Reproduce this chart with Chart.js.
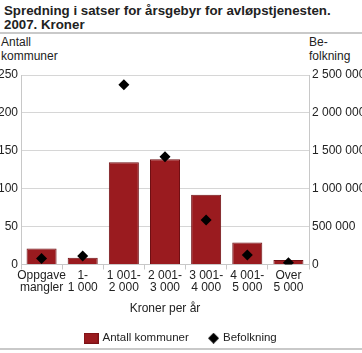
<!DOCTYPE html>
<html>
<head>
<meta charset="utf-8">
<script src="https://cdn.jsdelivr.net/npm/chart.js@4.4.0/dist/chart.umd.min.js"></script>
<style>
  body { margin: 0; width: 362px; height: 353px; position: relative; overflow: hidden; background: #fff;
         font-family: "Liberation Sans", Arial, sans-serif; color: #222; }
  #title { position: absolute; left: 4px; top: 4px; font-weight: bold; font-size: 13.3px; line-height: 14px; }
  .rule { position: absolute; left: 0; width: 362px; height: 2px; background: #c9c9c9; }
  .unit { position: absolute; font-size: 12px; line-height: 14px; }
  #wrap { position: absolute; left: 0; top: 0; width: 362px; height: 354px; }
</style>
</head>
<body>
<div id="title">Spredning i satser for årsgebyr for avløpstjenesten.<br>2007. Kroner</div>
<div class="rule" style="top:32px"></div>
<div class="unit" style="left:1px;top:35px">Antall<br>kommuner</div>
<div class="unit" style="left:309px;top:35px">Be-<br>folkning</div>
<div id="wrap"><canvas id="chart"></canvas></div>
<div class="rule" style="top:348px"></div>
<script>
// kategorier (kroner per år)
const categories = [
  ["Oppgave", "mangler"], ["1-", "1 000"], ["1 001-", "2 000"], ["2 001-", "3 000"],
  ["3 001-", "4 000"], ["4 001-", "5 000"], ["Over", "5 000"]
];
const antallKommuner = [21, 9, 135, 139, 92, 29, 6];
const befolkning = [80000, 112000, 2373000, 1420000, 587000, 125000, 23000];

const red = "#9a1b1f";

// number format with space as thousands separator
const fmt = v => String(v).replace(/\B(?=(\d{3})+(?!\d))/g, " ");

function swatch(w, h, draw) {
  const c = document.createElement("canvas");
  c.width = w; c.height = h;
  draw(c.getContext("2d"));
  return c;
}
const barIcon = swatch(15, 11, g => {
  g.fillStyle = "#7a1216"; g.fillRect(0, 0, 15, 11);
  g.fillStyle = red; g.fillRect(1, 1, 13, 9);
});
// diamond sits at the right side of the icon box
const diamondIcon = swatch(15, 11, g => {
  g.fillStyle = "#000";
  g.beginPath(); g.moveTo(9.5, 0); g.lineTo(15, 5.5); g.lineTo(9.5, 11); g.lineTo(4, 5.5); g.closePath(); g.fill();
});

Chart.defaults.font.family = '"Liberation Sans", Arial, sans-serif';
Chart.defaults.font.size = 12;
Chart.defaults.color = "#222";

const ctx = document.getElementById("chart").getContext("2d");
new Chart(ctx, {
  type: "bar",
  data: {
    labels: categories,
    datasets: [
      {
        type: "line",
        label: "Befolkning",
        data: befolkning,
        yAxisID: "y1",
        showLine: false,
        pointStyle: "rectRot",
        pointRadius: 5.5,
        pointHoverRadius: 5.5,
        backgroundColor: "#000",
        borderColor: "#000",
        borderWidth: 0,
        order: 0
      },
      {
        label: "Antall kommuner",
        data: antallKommuner,
        yAxisID: "y",
        backgroundColor: red,
        borderColor: "#6f1014",
        borderWidth: 1,
        barPercentage: 0.73,
        categoryPercentage: 1,
        order: 1
      }
    ]
  },
  options: {
    responsive: true,
    maintainAspectRatio: false,
    animation: false,
    layout: { padding: { top: 75, bottom: 0, left: 0, right: 0 } },
    plugins: {
      tooltip: { enabled: false },
      legend: {
        position: "bottom",
        labels: {
          usePointStyle: true,
          boxWidth: 15,
          boxHeight: 11,
          padding: 17,
          font: { size: 11.5 },
          color: "#222",
          generateLabels: chart => [
            { text: "Antall kommuner", pointStyle: barIcon, datasetIndex: 1, lineWidth: 0, fontColor: "#222" },
            { text: "Befolkning", pointStyle: diamondIcon, datasetIndex: 0, lineWidth: 0, fontColor: "#222" }
          ]
        }
      }
    },
    scales: {
      x: {
        offset: true,
        grid: { offset: true, drawOnChartArea: false, color: "#c8c8c8", tickLength: 5 },
        border: { color: "#c8c8c8" },
        ticks: { maxRotation: 0, autoSkip: false, padding: 0, font: { size: 12, lineHeight: 1.0 } },
        title: { display: true, text: "Kroner per år", font: { size: 12 }, padding: { top: 4, bottom: 0 } },
        afterFit: s => { s.height = 51; }
      },
      y: {
        position: "left",
        min: 0, max: 250,
        ticks: { stepSize: 50, padding: 3 },
        grid: { color: "#d6d6d6", drawTicks: false },
        border: { color: "#c8c8c8" },
        afterFit: s => { s.width = 21; }
      },
      y1: {
        position: "right",
        min: 0, max: 2500000,
        ticks: { stepSize: 500000, padding: 3, callback: v => fmt(v) },
        grid: { drawOnChartArea: false, drawTicks: false },
        border: { color: "#c8c8c8" },
        afterFit: s => { s.width = 53; }
      }
    }
  }
});
</script>
</body>
</html>
